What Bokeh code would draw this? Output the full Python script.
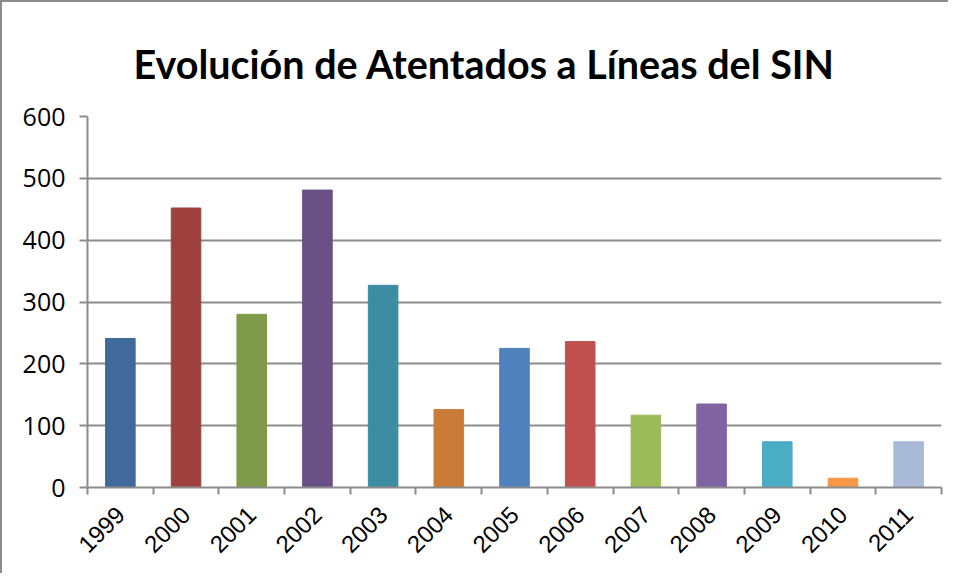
from bokeh.plotting import figure
from bokeh.models import Range1d, LinearAxis, FixedTicker, ColumnDataSource
from bokeh.embed import file_html
from bokeh.resources import INLINE
import math

years = ["1999", "2000", "2001", "2002", "2003", "2004", "2005", "2006",
         "2007", "2008", "2009", "2010", "2011"]
atentados = [241, 452, 280, 481, 327, 126, 225, 236, 117, 135, 74, 15, 74]
colors = ["#406A9B", "#9E413E", "#7F9A48", "#695086", "#3C8CA3", "#CB7B38",
          "#4F81BD", "#C0504D", "#9BBB59", "#8064A2", "#4BACC6", "#F79646", "#A9BAD8"]
y_ticks = [0, 100, 200, 300, 400, 500, 600]
title_text = "Evolución de Atentados a Líneas del SIN"

GRAY = "#8c8c8c"
n = len(years)
centers = [i + 0.5 for i in range(n)]
bounds = list(range(n + 1))

src = ColumnDataSource(dict(x=centers, value=atentados, color=colors))

p = figure(width=948, height=573, output_backend="svg", toolbar_location=None,
           x_range=Range1d(0, n), y_range=Range1d(0, 600),
           x_axis_location=None, y_axis_location=None,
           min_border_left=85, min_border_right=9, min_border_top=114, min_border_bottom=88)

p.vbar(x="x", top="value", width=0.45, color="color", source=src)

p.title.text = title_text
p.title.text_font = "Lato"
p.title.text_font_style = "bold"
p.title.text_font_size = "39.5px"
p.title.align = "left"
p.title.offset = 46
p.title.standoff = 59
p.title.text_color = "black"

# y axis
ya = LinearAxis(ticker=FixedTicker(ticks=y_ticks))
ya.axis_line_color = GRAY
ya.axis_line_width = 2
ya.major_tick_line_color = GRAY
ya.major_tick_line_width = 2
ya.major_tick_in = 0
ya.major_tick_out = 8
ya.minor_tick_line_color = None
ya.major_label_text_font = "Open Sans"
ya.major_label_text_font_size = "25px"
ya.major_label_text_color = "black"
ya.major_label_standoff = 14
p.add_layout(ya, "left")

# x axis: labels at category centers, ticks at category boundaries
xc = LinearAxis(ticker=FixedTicker(ticks=centers, minor_ticks=bounds))
xc.major_label_overrides = {c: y for c, y in zip(centers, years)}
xc.axis_line_color = GRAY
xc.axis_line_width = 2
xc.major_tick_line_color = None
xc.minor_tick_line_color = GRAY
xc.minor_tick_line_width = 2
xc.minor_tick_in = 0
xc.minor_tick_out = 7
xc.major_label_orientation = math.pi / 4
xc.major_label_text_font = "Liberation Sans"
xc.major_label_text_font_size = "24px"
xc.major_label_text_color = "black"
xc.major_label_standoff = 16
p.add_layout(xc, "below")

p.xgrid.grid_line_color = None
p.ygrid.grid_line_color = GRAY
p.ygrid.grid_line_width = 2
p.ygrid.ticker = FixedTicker(ticks=y_ticks)
p.outline_line_color = None
p.styles = {"border-left": "2px solid #8c8c8c", "border-top": "2px solid #8c8c8c"}

open("out.html", "w").write(file_html(p, INLINE))
